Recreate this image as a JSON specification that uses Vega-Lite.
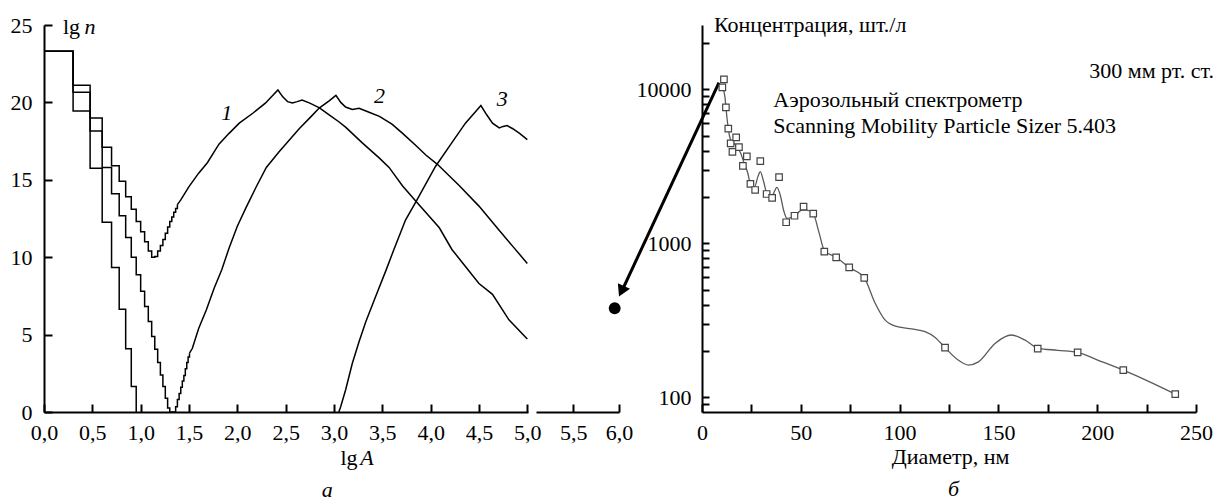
{
  "$schema": "https://vega.github.io/schema/vega-lite/v6.json",
  "padding": {"left": 10, "top": 14, "right": 0, "bottom": 0},
  "background": "white",
  "bounds": "flush",
  "spacing": 83,
  "config": {
    "view": {"stroke": null, "fill": null},
    "font": "Liberation Serif",
    "axis": {
      "labelFont": "Liberation Serif", "labelFontSize": 22, "labelColor": "black",
      "domainColor": "black", "domainWidth": 2,
      "grid": false, "title": null, "labelFlush": false, "labelOverlap": false, "zindex": 1
    },
    "text": {"font": "Liberation Serif", "fontSize": 22, "color": "black"}
  },
  "datasets": {
    "curves": [
      {"curve":"1","part":"step","lgA":0,"lgn":23.3},{"curve":"1","part":"step","lgA":0.301,"lgn":21.1},{"curve":"1","part":"step","lgA":0.477,"lgn":19.0},{"curve":"1","part":"step","lgA":0.602,"lgn":17.1},{"curve":"1","part":"step","lgA":0.699,"lgn":15.9},{"curve":"1","part":"step","lgA":0.778,"lgn":14.9},{"curve":"1","part":"step","lgA":0.845,"lgn":13.9},{"curve":"1","part":"step","lgA":0.903,"lgn":13.1},{"curve":"1","part":"step","lgA":0.954,"lgn":12.3},{"curve":"1","part":"step","lgA":1.0,"lgn":11.65},{"curve":"1","part":"step","lgA":1.041,"lgn":11.0},{"curve":"1","part":"step","lgA":1.079,"lgn":10.4},{"curve":"1","part":"step","lgA":1.114,"lgn":10.0},{"curve":"1","part":"step","lgA":1.146,"lgn":10.05},{"curve":"1","part":"step","lgA":1.176,"lgn":10.4},{"curve":"1","part":"step","lgA":1.204,"lgn":10.75},{"curve":"1","part":"step","lgA":1.23,"lgn":11.15},{"curve":"1","part":"step","lgA":1.255,"lgn":11.55},{"curve":"1","part":"step","lgA":1.279,"lgn":11.95},{"curve":"1","part":"step","lgA":1.301,"lgn":12.3},{"curve":"1","part":"step","lgA":1.322,"lgn":12.6},{"curve":"1","part":"step","lgA":1.342,"lgn":12.9},{"curve":"1","part":"step","lgA":1.362,"lgn":13.15},{"curve":"1","part":"step","lgA":1.38,"lgn":13.4},
      {"curve":"1","part":"smooth","lgA":1.38,"lgn":13.4},{"curve":"1","part":"smooth","lgA":1.415,"lgn":13.7},{"curve":"1","part":"smooth","lgA":1.5,"lgn":14.56},{"curve":"1","part":"smooth","lgA":1.6,"lgn":15.43},{"curve":"1","part":"smooth","lgA":1.69,"lgn":16.1},{"curve":"1","part":"smooth","lgA":1.81,"lgn":17.3},{"curve":"1","part":"smooth","lgA":1.915,"lgn":18.0},{"curve":"1","part":"smooth","lgA":2.02,"lgn":18.66},{"curve":"1","part":"smooth","lgA":2.16,"lgn":19.3},{"curve":"1","part":"smooth","lgA":2.29,"lgn":19.95},{"curve":"1","part":"smooth","lgA":2.42,"lgn":20.8},{"curve":"1","part":"smooth","lgA":2.47,"lgn":20.36},{"curve":"1","part":"smooth","lgA":2.52,"lgn":20.05},{"curve":"1","part":"smooth","lgA":2.57,"lgn":19.97},{"curve":"1","part":"smooth","lgA":2.62,"lgn":20.05},{"curve":"1","part":"smooth","lgA":2.67,"lgn":20.15},{"curve":"1","part":"smooth","lgA":2.75,"lgn":19.95},{"curve":"1","part":"smooth","lgA":2.85,"lgn":19.65},{"curve":"1","part":"smooth","lgA":2.95,"lgn":19.2},{"curve":"1","part":"smooth","lgA":3.05,"lgn":18.75},{"curve":"1","part":"smooth","lgA":3.12,"lgn":18.4},{"curve":"1","part":"smooth","lgA":3.29,"lgn":17.4},{"curve":"1","part":"smooth","lgA":3.47,"lgn":16.4},{"curve":"1","part":"smooth","lgA":3.57,"lgn":15.8},{"curve":"1","part":"smooth","lgA":3.71,"lgn":14.6},{"curve":"1","part":"smooth","lgA":3.85,"lgn":13.6},{"curve":"1","part":"smooth","lgA":4.09,"lgn":11.9},{"curve":"1","part":"smooth","lgA":4.22,"lgn":10.5},{"curve":"1","part":"smooth","lgA":4.36,"lgn":9.4},{"curve":"1","part":"smooth","lgA":4.5,"lgn":8.3},{"curve":"1","part":"smooth","lgA":4.64,"lgn":7.6},{"curve":"1","part":"smooth","lgA":4.81,"lgn":5.95},{"curve":"1","part":"smooth","lgA":5.0,"lgn":4.72},
      {"curve":"2","part":"step","lgA":0,"lgn":23.3},{"curve":"2","part":"step","lgA":0.301,"lgn":20.65},{"curve":"2","part":"step","lgA":0.477,"lgn":18.16},{"curve":"2","part":"step","lgA":0.602,"lgn":15.8},{"curve":"2","part":"step","lgA":0.699,"lgn":14.1},{"curve":"2","part":"step","lgA":0.778,"lgn":12.67},{"curve":"2","part":"step","lgA":0.845,"lgn":11.27},{"curve":"2","part":"step","lgA":0.903,"lgn":10.0},{"curve":"2","part":"step","lgA":0.954,"lgn":8.86},{"curve":"2","part":"step","lgA":1.0,"lgn":7.8},{"curve":"2","part":"step","lgA":1.041,"lgn":6.81},{"curve":"2","part":"step","lgA":1.079,"lgn":5.84},{"curve":"2","part":"step","lgA":1.114,"lgn":4.87},{"curve":"2","part":"step","lgA":1.146,"lgn":4.05},{"curve":"2","part":"step","lgA":1.176,"lgn":3.19},{"curve":"2","part":"step","lgA":1.204,"lgn":2.39},{"curve":"2","part":"step","lgA":1.23,"lgn":1.64},{"curve":"2","part":"step","lgA":1.255,"lgn":0.89},{"curve":"2","part":"step","lgA":1.279,"lgn":0.26},{"curve":"2","part":"step","lgA":1.301,"lgn":0},{"curve":"2","part":"step","lgA":1.352,"lgn":0},{"curve":"2","part":"step","lgA":1.362,"lgn":0.34},{"curve":"2","part":"step","lgA":1.38,"lgn":0.8},{"curve":"2","part":"step","lgA":1.398,"lgn":1.2},{"curve":"2","part":"step","lgA":1.415,"lgn":1.6},{"curve":"2","part":"step","lgA":1.431,"lgn":2.0},{"curve":"2","part":"step","lgA":1.447,"lgn":2.35},{"curve":"2","part":"step","lgA":1.462,"lgn":2.8},{"curve":"2","part":"step","lgA":1.477,"lgn":3.2},{"curve":"2","part":"step","lgA":1.491,"lgn":3.55},{"curve":"2","part":"step","lgA":1.505,"lgn":3.8},
      {"curve":"2","part":"smooth","lgA":1.505,"lgn":3.8},{"curve":"2","part":"smooth","lgA":1.534,"lgn":4.1},{"curve":"2","part":"smooth","lgA":1.6,"lgn":5.4},{"curve":"2","part":"smooth","lgA":1.68,"lgn":6.6},{"curve":"2","part":"smooth","lgA":1.76,"lgn":8.0},{"curve":"2","part":"smooth","lgA":1.84,"lgn":9.2},{"curve":"2","part":"smooth","lgA":1.915,"lgn":10.6},{"curve":"2","part":"smooth","lgA":2.0,"lgn":12.0},{"curve":"2","part":"smooth","lgA":2.09,"lgn":13.2},{"curve":"2","part":"smooth","lgA":2.2,"lgn":14.6},{"curve":"2","part":"smooth","lgA":2.3,"lgn":15.8},{"curve":"2","part":"smooth","lgA":2.43,"lgn":16.8},{"curve":"2","part":"smooth","lgA":2.5,"lgn":17.3},{"curve":"2","part":"smooth","lgA":2.64,"lgn":18.3},{"curve":"2","part":"smooth","lgA":2.75,"lgn":19.0},{"curve":"2","part":"smooth","lgA":2.85,"lgn":19.65},{"curve":"2","part":"smooth","lgA":2.95,"lgn":20.1},{"curve":"2","part":"smooth","lgA":3.02,"lgn":20.45},{"curve":"2","part":"smooth","lgA":3.07,"lgn":20.0},{"curve":"2","part":"smooth","lgA":3.12,"lgn":19.7},{"curve":"2","part":"smooth","lgA":3.19,"lgn":19.55},{"curve":"2","part":"smooth","lgA":3.26,"lgn":19.62},{"curve":"2","part":"smooth","lgA":3.35,"lgn":19.4},{"curve":"2","part":"smooth","lgA":3.47,"lgn":19.1},{"curve":"2","part":"smooth","lgA":3.6,"lgn":18.6},{"curve":"2","part":"smooth","lgA":3.71,"lgn":18.0},{"curve":"2","part":"smooth","lgA":3.85,"lgn":17.2},{"curve":"2","part":"smooth","lgA":3.95,"lgn":16.6},{"curve":"2","part":"smooth","lgA":4.07,"lgn":16.0},{"curve":"2","part":"smooth","lgA":4.3,"lgn":14.6},{"curve":"2","part":"smooth","lgA":4.5,"lgn":13.3},{"curve":"2","part":"smooth","lgA":4.7,"lgn":11.8},{"curve":"2","part":"smooth","lgA":4.85,"lgn":10.7},{"curve":"2","part":"smooth","lgA":5.0,"lgn":9.6},
      {"curve":"3","part":"step","lgA":0,"lgn":23.3},{"curve":"3","part":"step","lgA":0.301,"lgn":19.45},{"curve":"3","part":"step","lgA":0.477,"lgn":15.75},{"curve":"3","part":"step","lgA":0.602,"lgn":12.26},{"curve":"3","part":"step","lgA":0.699,"lgn":9.33},{"curve":"3","part":"step","lgA":0.778,"lgn":6.64},{"curve":"3","part":"step","lgA":0.845,"lgn":4.09},{"curve":"3","part":"step","lgA":0.903,"lgn":1.64},{"curve":"3","part":"step","lgA":0.954,"lgn":0},
      {"curve":"3","part":"smooth","lgA":3.05,"lgn":0},{"curve":"3","part":"smooth","lgA":3.07,"lgn":0.35},{"curve":"3","part":"smooth","lgA":3.12,"lgn":1.42},{"curve":"3","part":"smooth","lgA":3.19,"lgn":3.15},{"curve":"3","part":"smooth","lgA":3.26,"lgn":4.55},{"curve":"3","part":"smooth","lgA":3.33,"lgn":5.84},{"curve":"3","part":"smooth","lgA":3.43,"lgn":7.45},{"curve":"3","part":"smooth","lgA":3.54,"lgn":9.18},{"curve":"3","part":"smooth","lgA":3.62,"lgn":10.5},{"curve":"3","part":"smooth","lgA":3.74,"lgn":12.4},{"curve":"3","part":"smooth","lgA":3.85,"lgn":13.6},{"curve":"3","part":"smooth","lgA":4.05,"lgn":15.86},{"curve":"3","part":"smooth","lgA":4.22,"lgn":17.4},{"curve":"3","part":"smooth","lgA":4.36,"lgn":18.66},{"curve":"3","part":"smooth","lgA":4.52,"lgn":19.8},{"curve":"3","part":"smooth","lgA":4.58,"lgn":19.2},{"curve":"3","part":"smooth","lgA":4.64,"lgn":18.66},{"curve":"3","part":"smooth","lgA":4.71,"lgn":18.35},{"curve":"3","part":"smooth","lgA":4.75,"lgn":18.45},{"curve":"3","part":"smooth","lgA":4.79,"lgn":18.5},{"curve":"3","part":"smooth","lgA":4.85,"lgn":18.3},{"curve":"3","part":"smooth","lgA":4.92,"lgn":18.0},{"curve":"3","part":"smooth","lgA":5.0,"lgn":17.6}
    ],
    "italicLeft": [
      {"label":"1","lgA":1.89,"lgn":19.3},
      {"label":"2","lgA":3.47,"lgn":20.4},
      {"label":"3","lgA":4.74,"lgn":20.2},
      {"label":"n","lgA":0.476,"lgn":24.9},
      {"label":"A","lgA":3.34,"lgn":-2.97},
      {"label":"а","lgA":2.93,"lgn":-5.04}
    ],
    "uprightLeft": [
      {"label":"lg","lgA":0.284,"lgn":24.9},
      {"label":"lg","lgA":3.155,"lgn":-2.97}
    ],
    "arrow": [{"lgA":7.09,"lgn":21.27,"lgA2":6.03,"lgn2":7.8}],
    "arrowHead": [{"lgA":6.027,"lgn":7.8}],
    "dot": [{"lgA":5.953,"lgn":6.7}],
    "points": [
      {"d":11.1,"c":11600},{"d":10.3,"c":10300},{"d":12.1,"c":7640},{"d":13.3,"c":5550},{"d":14.5,"c":4460},{"d":17.3,"c":4880},{"d":15.4,"c":3920},{"d":18.7,"c":4210},{"d":22.7,"c":3670},{"d":20.7,"c":3180},{"d":29.5,"c":3420},{"d":24.5,"c":2430},{"d":26.9,"c":2220},{"d":32.7,"c":2090},{"d":35.5,"c":1970},{"d":39.0,"c":2690},{"d":42.6,"c":1370},{"d":46.8,"c":1510},{"d":51.4,"c":1730},{"d":56.3,"c":1560},{"d":61.9,"c":883},{"d":67.9,"c":811},{"d":74.5,"c":698},{"d":82.1,"c":596},{"d":123.0,"c":210},{"d":169.9,"c":207},{"d":190.1,"c":196},{"d":213.2,"c":150},{"d":239.5,"c":105}
    ],
    "fit": [
      {"d":10.3,"c":10300},{"d":11.6,"c":8960},{"d":12.1,"c":7640},{"d":13.3,"c":5550},{"d":14.5,"c":4690},{"d":16.2,"c":4460},{"d":17.3,"c":4300},{"d":19.6,"c":3840},{"d":21.3,"c":3310},{"d":23.2,"c":2850},{"d":24.5,"c":2430},{"d":26.6,"c":2330},{"d":28.3,"c":2710},{"d":29.5,"c":2920},{"d":31.2,"c":2510},{"d":32.9,"c":2110},{"d":35.5,"c":2050},{"d":37.9,"c":2310},{"d":39.6,"c":2060},{"d":41.3,"c":1640},{"d":43.0,"c":1450},{"d":46.8,"c":1510},{"d":50.6,"c":1640},{"d":53.2,"c":1640},{"d":56.3,"c":1560},{"d":59.1,"c":1190},{"d":61.9,"c":900},{"d":67.9,"c":811},{"d":74.5,"c":698},{"d":82.1,"c":596},{"d":87.7,"c":407},{"d":92.6,"c":318},{"d":97.8,"c":290},{"d":106.2,"c":278},{"d":112.9,"c":267},{"d":118.0,"c":245},{"d":123.0,"c":210},{"d":129.8,"c":174},{"d":134.8,"c":162},{"d":139.9,"c":170},{"d":148.3,"c":224},{"d":156.6,"c":254},{"d":163.3,"c":236},{"d":169.9,"c":209},{"d":180.0,"c":202},{"d":190.1,"c":196},{"d":200.5,"c":174},{"d":213.2,"c":150},{"d":226.0,"c":127},{"d":239.5,"c":105}
    ],
    "textLeftAligned": [
      {"label":"Концентрация, шт./л","d":6.06,"c":26150},
      {"label":"Аэрозольный спектрометр","d":36.1,"c":8520},
      {"label":"Scanning Mobility Particle Sizer 5.403","d":36.1,"c":5780}
    ],
    "textRightAligned": [
      {"label":"300 мм рт. ст.","d":259.1,"c":13150}
    ],
    "textCentered": [
      {"label":"Диаметр, нм","d":125.8,"c":40.9}
    ],
    "textCenteredItalic": [
      {"label":"б","d":127.3,"c":25.4}
    ]
  },
  "hconcat": [
    {
      "width": 575,
      "height": 387,
      "encoding": {
        "x": {"field": "lgA", "type": "quantitative",
          "scale": {"domain": [0, 5, 6], "range": [0, 483.3, 575], "nice": false, "zero": false},
          "axis": {"values": [0,0.5,1,1.5,2,2.5,3,3.5,4,4.5,5,5.5,6], "labelExpr": "replace(format(datum.value, '.1f'), '.', ',')", "title": null,
                   "ticks": true, "tickSize": -8, "tickColor": "black", "tickWidth": 2, "tickOpacity": 1, "labelPadding": 18,
                   "domainDash": [484, 8, 200], "domainCap": "butt"}},
        "y": {"field": "lgn", "type": "quantitative",
          "scale": {"domain": [0, 25], "nice": false},
          "axis": {"values": [0,5,10,15,20,25], "title": null,
                   "ticks": true, "tickSize": -8, "tickColor": "black", "tickWidth": 2, "tickOpacity": 1, "labelPadding": 20}}
      },
      "layer": [
        {
          "data": {"name": "curves"},
          "transform": [{"filter": "datum.part == 'step'"}],
          "mark": {"type": "line", "interpolate": "step-after", "color": "black", "strokeWidth": 1.5},
          "encoding": {"detail": {"field": "curve"}}
        },
        {
          "data": {"name": "curves"},
          "transform": [{"filter": "datum.part == 'smooth'"}],
          "mark": {"type": "line", "color": "black", "strokeWidth": 1.5},
          "encoding": {"detail": {"field": "curve"}}
        },
        {
          "data": {"name": "italicLeft"},
          "mark": {"type": "text", "fontStyle": "italic", "baseline": "middle", "clip": false},
          "encoding": {"text": {"field": "label"}}
        },
        {
          "data": {"name": "uprightLeft"},
          "mark": {"type": "text", "baseline": "middle", "clip": false},
          "encoding": {"text": {"field": "label"}}
        },
        {
          "data": {"name": "arrow"},
          "mark": {"type": "rule", "color": "black", "strokeWidth": 3, "clip": false},
          "encoding": {"x2": {"field": "lgA2"}, "y2": {"field": "lgn2"}}
        },
        {
          "data": {"name": "arrowHead"},
          "mark": {"type": "point", "shape": "triangle-down", "angle": 25, "filled": true, "color": "black", "size": 180, "opacity": 1, "clip": false}
        },
        {
          "data": {"name": "dot"},
          "mark": {"type": "point", "shape": "circle", "filled": true, "color": "black", "size": 140, "opacity": 1, "clip": false}
        }
      ]
    },
    {
      "width": 494,
      "height": 387,
      "encoding": {
        "x": {"field": "d", "type": "quantitative",
          "scale": {"domain": [0, 250], "nice": false},
          "axis": {"values": [0,25,50,75,100,125,150,175,200,225,250], "labelExpr": "datum.value % 50 == 0 ? datum.label : ''", "title": null,
                   "ticks": true, "tickSize": -8, "tickColor": "black", "tickWidth": 2, "tickOpacity": 1, "labelPadding": 18}},
        "y": {"field": "c", "type": "quantitative",
          "scale": {"type": "log", "domain": [80.3, 26150], "nice": false},
          "axis": {"values": [90,100,200,300,400,500,600,700,800,900,1000,2000,3000,4000,5000,6000,7000,8000,9000,10000,20000], "labelExpr": "datum.value == 100 || datum.value == 1000 || datum.value == 10000 ? format(datum.value, 'd') : ''", "title": null,
                   "ticks": true, "tickSize": -7, "tickColor": "black", "tickWidth": 2, "tickOpacity": 1, "labelPadding": 18}}
      },
      "layer": [
        {
          "data": {"name": "fit"},
          "mark": {"type": "line", "interpolate": "monotone", "color": "#5a5a5a", "strokeWidth": 1.3}
        },
        {
          "data": {"name": "points"},
          "mark": {"type": "point", "shape": "square", "filled": true, "fill": "white", "stroke": "#444444", "strokeWidth": 1.2, "size": 42, "opacity": 1}
        },
        {
          "data": {"name": "textLeftAligned"},
          "mark": {"type": "text", "align": "left", "baseline": "middle", "clip": false},
          "encoding": {"text": {"field": "label"}}
        },
        {
          "data": {"name": "textRightAligned"},
          "mark": {"type": "text", "align": "right", "baseline": "middle", "clip": false},
          "encoding": {"text": {"field": "label"}}
        },
        {
          "data": {"name": "textCentered"},
          "mark": {"type": "text", "align": "center", "baseline": "middle", "clip": false},
          "encoding": {"text": {"field": "label"}}
        },
        {
          "data": {"name": "textCenteredItalic"},
          "mark": {"type": "text", "align": "center", "baseline": "middle", "fontStyle": "italic", "clip": false},
          "encoding": {"text": {"field": "label"}}
        }
      ]
    }
  ]
}
